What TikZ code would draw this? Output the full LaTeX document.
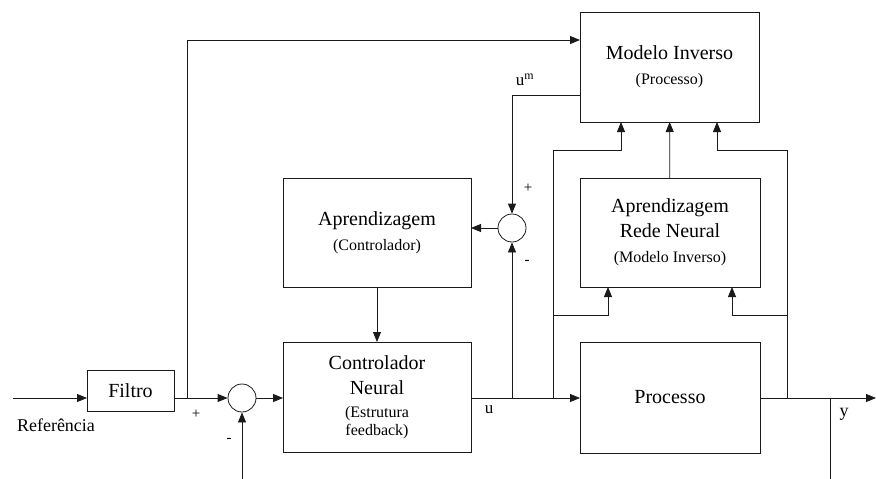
\documentclass[tikz,border=0pt]{standalone}
\usepackage{fontspec}
\setmainfont{Liberation Serif}
\usetikzlibrary{arrows.meta, positioning}
\definecolor{block-border}{HTML}{1A1A1A}
\definecolor{flow-color}{HTML}{1A1A1A}
\newcommand{\subtext}{\fontsize{16}{19}\selectfont}
\tikzset{
  block-node/.style={
    draw=block-border, line width=0.8pt, inner sep=0pt, outer sep=0pt,
    align=center, font=\fontsize{20}{25}\selectfont
  },
  sum-node/.style={
    circle, draw=block-border, line width=0.8pt, minimum size=28pt, inner sep=0pt
  },
  sign-label/.style={font=\fontsize{15}{15}\selectfont, inner sep=1pt},
  flow/.style={-{Triangle[length=10pt, width=8pt]}, line width=0.8pt, draw=flow-color},
  wire/.style={line width=0.8pt, draw=flow-color}
}

\begin{document}
\begin{tikzpicture}[x=1pt, y=-1pt]
  \useasboundingbox (0,0) rectangle (876,479);

  \node[block-node, minimum width=87pt, minimum height=41pt]   (filtro)      at (130.5, 390.5) {Filtro};
  \node[sum-node]                                              (sum1)        at (242, 398) {};
  \node[block-node, minimum width=188pt, minimum height=110pt] (controlador) at (377, 397)   {Controlador\\Neural\\[-2pt]\subtext (Estrutura\\[-7pt]\subtext feedback)};
  \node[block-node, minimum width=188pt, minimum height=109pt] (learn-ctrl)  at (377, 232.5) {Aprendizagem\\\subtext (Controlador)};
  \node[sum-node]                                              (sum2)        at (512, 228) {};
  \node[block-node, minimum width=179pt, minimum height=110pt] (modelo)      at (669.5, 67)  {Modelo Inverso\\\subtext (Processo)};
  \node[block-node, minimum width=180pt, minimum height=109pt] (learn-rn)    at (670, 232.5) {Aprendizagem\\Rede Neural\\\subtext (Modelo Inverso)};
  \node[block-node, minimum width=180pt, minimum height=111pt] (processo)    at (670, 397.5) {Processo};

  \node[font=\fontsize{18}{18}\selectfont] (ref-label) at (56, 425) {Referência};
  \node[sign-label] (plus1)  at (196, 414) {+};
  \node[sign-label] (minus1) at (229, 440) {-};
  \node[sign-label] (plus2)  at (528, 188) {+};
  \node[sign-label] (minus2) at (527, 262) {-};
  \node[font=\fontsize{17}{17}\selectfont] (u-label)  at (489, 410) {u};
  \node[font=\fontsize{17}{17}\selectfont] (um-label) at (525, 80)  {u\textsuperscript{m}};
  \node[font=\fontsize{18}{18}\selectfont] (y-label)  at (844, 414) {y};

  \coordinate (ref-in)  at (13, 398);
  \coordinate (ref-tap) at (187, 398);
  \coordinate (fb-in)   at (242, 479);
  \coordinate (u-tap)   at (512, 398);
  \coordinate (u-tap2)  at (553, 398);
  \coordinate (u-mid)   at (553, 315);
  \coordinate (y-tap)   at (787, 398);
  \coordinate (y-mid)   at (787, 315);
  \coordinate (y-out)   at (830, 398);
  \coordinate (y-end)   at (830, 479);
  \coordinate (out)     at (876, 398);

  % reference path
  \draw[flow] (ref-in) -- (filtro.west |- ref-in);
  \draw[flow] (filtro.east |- sum1) -- (sum1.west);
  \draw[flow] (ref-tap) |- ([yshift=-28pt]modelo.north west);
  \draw[flow] (fb-in) -- (sum1.south);
  \draw[flow] (sum1.east) -- (controlador.west |- sum1);
  \draw[flow] (learn-ctrl) -- (controlador);
  \draw[flow] (controlador.east |- sum1) -- (processo.west |- sum1);

  % controller learning
  \draw[flow] (u-tap) -- (sum2.south);
  \draw[flow] ([yshift=-83pt]modelo.north west) -| (sum2.north);
  \draw[flow] (sum2.west) -- (learn-ctrl.east |- sum2);

  % inverse model learning
  \draw[flow] (u-tap2) |- ([xshift=41pt, yshift=-28pt]modelo.south west) -- ([xshift=41pt]modelo.south west);
  \draw[flow] (u-mid) -| ([xshift=28pt]learn-rn.south west);
  \draw[flow] (learn-rn) -- (modelo);
  \draw[flow] (y-tap) |- ([xshift=-42pt, yshift=-28pt]modelo.south east) -- ([xshift=-42pt]modelo.south east);
  \draw[flow] (y-mid) -| ([xshift=-28pt]learn-rn.south east);

  % output
  \draw[flow] (processo.east |- sum1) -- (out);
  \draw[wire] (y-out) -- (y-end);
\end{tikzpicture}
\end{document}
